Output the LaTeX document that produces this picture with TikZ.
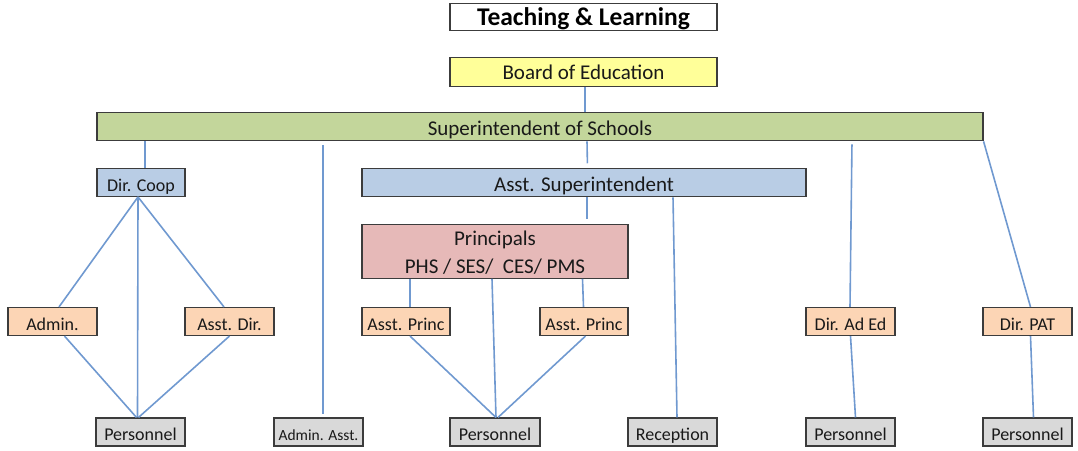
\documentclass[tikz,border=0pt]{standalone}
\usepackage{fontspec}
\setmainfont{Carlito}
\definecolor{yellowc}{HTML}{FFFF99}
\definecolor{greenc}{HTML}{C3D69B}
\definecolor{bluec}{HTML}{B9CDE5}
\definecolor{pinkc}{HTML}{E6B9B8}
\definecolor{peachc}{HTML}{FCD5B5}
\definecolor{grayc}{HTML}{D9D9D9}
\definecolor{linec}{HTML}{7099D0}
\definecolor{borderc}{HTML}{3C3C3C}
\begin{document}
\begin{tikzpicture}[x=1pt,y=-1pt,
  box/.style={draw=borderc,line width=1.1pt,inner sep=0pt,text=black!90,
    font=\fontsize{18}{21}\selectfont,text height=17.2pt,text depth=0pt},
  big/.style={box,font=\fontsize{21}{24}\selectfont,text height=16.5pt},
  small/.style={box,font=\fontsize{15.5}{18}\selectfont,text height=16pt},
  conn/.style={draw=linec,line width=1.6pt}]
\useasboundingbox (0,0) rectangle (1078,450);
% top
\node[box,fill=white,minimum width=267pt,minimum height=27pt,
  font=\fontsize{25.5}{28}\bfseries\selectfont,text=black,text height=16.1pt] (title) at (583.5,17) {Teaching \& Learning};
\node[big,fill=yellowc,minimum width=267pt,minimum height=29pt] (board) at (583.5,71.7) {Board of Education};
\node[big,fill=greenc,minimum width=886pt,minimum height=28pt] (super) at (540,126.8) {Superintendent of Schools};
% second level
\node[box,fill=bluec,minimum width=88pt,minimum height=28pt] (dircoop) at (141,182.4) {Dir. Coop};
\node[big,fill=bluec,minimum width=444pt,minimum height=28pt] (asstsup) at (584,182.8) {Asst. Superintendent};
\node[big,fill=pinkc,minimum width=266pt,minimum height=54pt,
  font=\fontsize{21}{28.5}\selectfont,text height=0pt,text depth=12.6pt] (princ) at (495,251.3)
  {\begin{tabular}[t]{@{}c@{}}Principals\\PHS / SES/\ \ CES/ PMS\end{tabular}};
% third level
\node[box,fill=peachc,minimum width=89pt,minimum height=28pt] (admin) at (52.5,321.5) {Admin.};
\node[box,fill=peachc,minimum width=89pt,minimum height=28pt] (asstdir) at (229.5,321.5) {Asst. Dir.};
\node[box,fill=peachc,minimum width=88pt,minimum height=28pt] (apL) at (406,321.5) {Asst. Princ};
\node[box,fill=peachc,minimum width=88pt,minimum height=28pt] (apR) at (584,321.5) {Asst. Princ};
\node[box,fill=peachc,minimum width=89pt,minimum height=28pt] (aded) at (850.5,321.5) {Dir. Ad Ed};
\node[box,fill=peachc,minimum width=89pt,minimum height=28pt] (pat) at (1027.5,321.5) {Dir. PAT};
% bottom level
\node[box,fill=grayc,minimum width=89pt,minimum height=28pt] (pers1) at (140.5,432) {Personnel};
\node[small,fill=grayc,minimum width=89pt,minimum height=28pt] (aasst) at (318.5,432) {Admin. Asst.};
\node[box,fill=grayc,minimum width=90pt,minimum height=28pt] (pers2) at (495,432) {Personnel};
\node[box,fill=grayc,minimum width=89pt,minimum height=28pt] (recep) at (672.5,432) {Reception};
\node[box,fill=grayc,minimum width=89pt,minimum height=28pt] (pers3) at (850.5,432) {Personnel};
\node[box,fill=grayc,minimum width=89pt,minimum height=28pt] (pers4) at (1027.5,432) {Personnel};
% connectors
\draw[conn] ([xshift=1.5pt]board.south) -- ([xshift=1.5pt]board.south |- super.north);
\draw[conn] ([xshift=4pt]dircoop.north |- super.south) -- ([xshift=4pt]dircoop.north);
\draw[conn,shorten <=4pt,shorten >=3.5pt] ([xshift=4.5pt]aasst.north |- super.south) -- ([xshift=4.5pt]aasst.north);
\draw[conn,shorten >=5pt] ([xshift=3pt]asstsup.north |- super.south) -- ([xshift=3.5pt]asstsup.north);
\draw[conn,shorten >=5pt] ([xshift=3pt]asstsup.south) -- ([xshift=3pt]asstsup.south |- princ.north);
\draw[conn] ([xshift=0.5pt]recep.north |- asstsup.south) -- ([xshift=4.5pt]recep.north);
\draw[conn,shorten <=3pt] ([xshift=1.5pt]aded.north |- super.south) -- ([xshift=-0.5pt]aded.north);
\draw[conn] (super.south east) -- ([xshift=3pt]pat.north);
\draw[conn] ([xshift=-3pt]dircoop.south) -- ([xshift=6.5pt]admin.north);
\draw[conn] ([xshift=-3pt]dircoop.south) -- ([xshift=-3pt]pers1.north);
\draw[conn] ([xshift=-3pt]dircoop.south) -- ([xshift=-5.5pt]asstdir.north);
\draw[conn] ([xshift=12pt]admin.south) -- ([xshift=-4pt]pers1.north);
\draw[conn] (asstdir.south) -- ([xshift=-2pt]pers1.north);
\draw[conn] ([xshift=4pt]apL.north |- princ.south) -- ([xshift=4pt]apL.north);
\draw[conn] ([xshift=-3pt]pers2.north |- princ.south) -- ([xshift=1pt]pers2.north);
\draw[conn] ([xshift=-1.5pt]apR.north |- princ.south) -- ([xshift=-0.5pt]apR.north);
\draw[conn] ([xshift=4pt]apL.south) -- ([xshift=1pt]pers2.north);
\draw[conn] ([xshift=1.5pt]apR.south) -- ([xshift=3pt]pers2.north);
\draw[conn] (aded.south) -- ([xshift=5pt]pers3.north);
\draw[conn] ([xshift=3pt]pat.south) -- ([xshift=6pt]pers4.north);
\end{tikzpicture}
\end{document}
